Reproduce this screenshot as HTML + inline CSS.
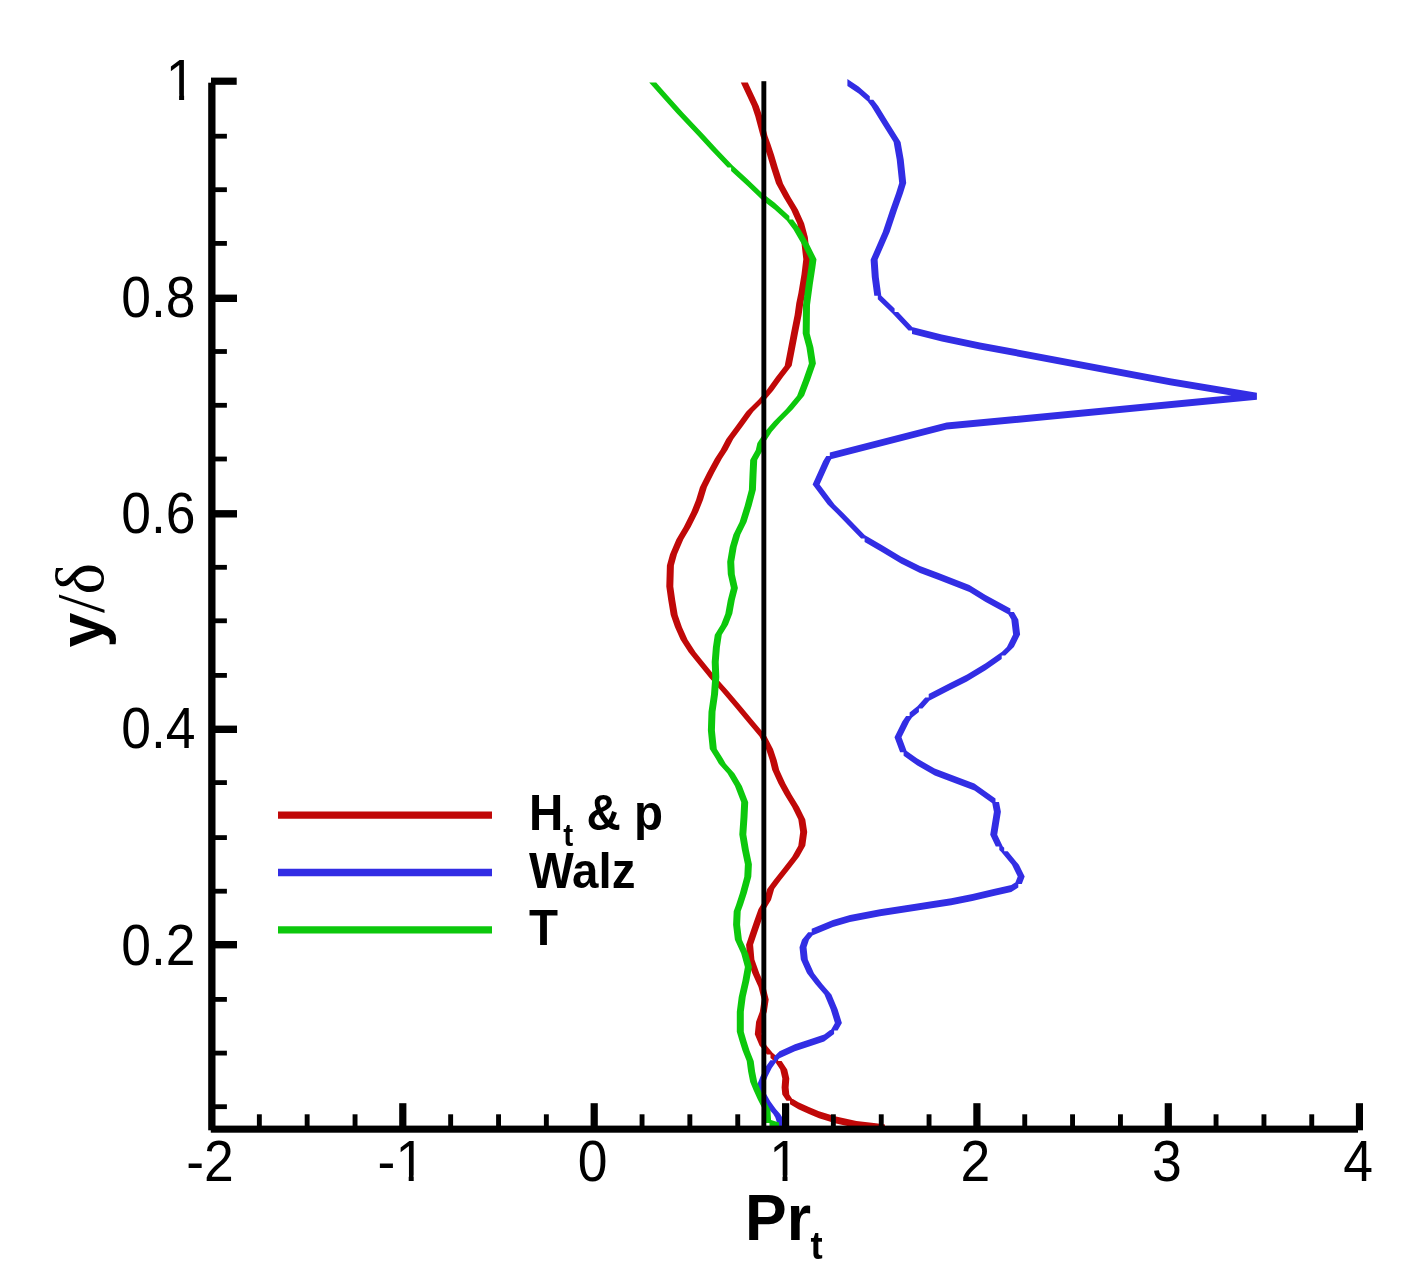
<!DOCTYPE html>
<html><head><meta charset="utf-8"><title>Pr_t profiles</title>
<style>
html,body{margin:0;padding:0;background:#fff;}
body{width:1415px;height:1288px;overflow:hidden;}
svg{display:block;}
.tk{font-family:"Liberation Sans",Arial,sans-serif;font-size:53.5px;fill:#000;}
.lg{font-family:"Liberation Sans",Arial,sans-serif;font-weight:bold;font-size:47.5px;fill:#000;}
.ttl{font-family:"Liberation Sans",Arial,sans-serif;font-weight:bold;font-size:62.5px;fill:#000;}
</style></head>
<body>
<svg width="1415" height="1288" viewBox="0 0 1415 1288">
<rect x="0" y="0" width="1415" height="1288" fill="#fff"/>
<g>
<path fill="#c00808" d="M740.8,82.6 747.8,82.6 753.9,95.5 746.9,95.5ZM746.9,95.5 753.9,95.5 758.8,106.0 751.8,106.0ZM751.8,106.0 758.8,106.0 762.3,116.4 755.3,116.4ZM755.3,116.4 762.3,116.4 765.1,126.9 758.1,126.9ZM758.1,126.9 765.1,126.9 767.5,136.0 760.5,136.0ZM760.5,136.0 767.5,136.0 770.6,144.4 763.6,144.4ZM763.6,144.4 770.6,144.4 774.1,154.9 767.1,154.9ZM767.1,154.9 774.1,154.9 778.0,168.0 771.0,168.0ZM771.0,168.0 778.0,168.0 783.0,183.5 776.0,183.5ZM776.0,183.5 783.0,183.5 790.5,197.2 783.5,197.2ZM783.5,197.2 790.5,197.2 797.9,209.6 790.9,209.6ZM790.9,209.6 797.9,209.6 804.1,223.3 797.1,223.3ZM797.1,223.3 804.1,223.3 807.8,237.0 800.8,237.0ZM800.8,237.0 807.8,237.0 810.3,259.3 803.3,259.3ZM803.3,259.3 810.3,259.3 808.5,274.2 801.5,274.2ZM801.5,274.2 808.5,274.2 805.4,292.9 798.4,292.9ZM798.4,292.9 805.4,292.9 803.3,303.0 796.3,303.0ZM796.3,303.0 803.3,303.0 801.6,314.9 794.6,314.9ZM794.6,314.9 801.6,314.9 797.9,333.5 790.9,333.5ZM790.9,333.5 797.9,333.5 794.8,349.7 787.8,349.7ZM787.8,349.7 794.8,349.7 791.7,365.8 784.7,365.8ZM784.7,365.8 791.7,365.8 783.0,377.0 776.0,377.0ZM776.0,377.0 783.0,377.0 773.1,390.7 766.1,390.7ZM766.1,390.7 773.1,390.7 765.6,399.4 758.6,399.4ZM758.6,399.4 765.6,399.4 753.2,411.8 746.2,411.8ZM746.2,411.8 753.2,411.8 743.3,425.5 736.3,425.5ZM736.3,425.5 743.3,425.5 733.3,439.1 726.3,439.1ZM726.3,439.1 733.3,439.1 727.5,450.0 720.5,450.0ZM720.5,450.0 727.5,450.0 721.8,458.7 714.8,458.7ZM714.8,458.7 721.8,458.7 714.3,472.4 707.3,472.4ZM707.3,472.4 714.3,472.4 706.9,487.3 699.9,487.3ZM699.9,487.3 706.9,487.3 703.1,499.7 696.1,499.7ZM696.1,499.7 703.1,499.7 698.2,512.1 691.2,512.1ZM691.2,512.1 698.2,512.1 690.7,527.0 683.7,527.0ZM683.7,527.0 690.7,527.0 683.3,539.4 676.3,539.4ZM676.3,539.4 683.3,539.4 677.0,554.3 670.0,554.3ZM670.0,554.3 677.0,554.3 673.9,565.5 666.9,565.5ZM666.9,565.5 673.9,565.5 673.3,586.6 666.3,586.6ZM666.3,586.6 673.3,586.6 675.2,600.0 668.2,600.0ZM668.2,600.0 675.2,600.0 677.7,614.9 670.7,614.9ZM670.7,614.9 677.7,614.9 682.0,627.3 675.0,627.3ZM675.0,627.3 682.0,627.3 687.6,639.8 680.6,639.8ZM680.6,639.8 687.6,639.8 695.7,652.2 688.7,652.2ZM688.7,652.2 695.7,652.2 705.6,664.6 698.6,664.6ZM698.6,664.6 705.6,664.6 716.8,678.3 709.8,678.3ZM709.8,678.3 716.8,678.3 728.0,690.7 721.0,690.7ZM721.0,690.7 728.0,690.7 741.6,706.8 734.6,706.8ZM734.6,706.8 741.6,706.8 754.1,721.7 747.1,721.7ZM747.1,721.7 754.1,721.7 766.5,736.6 759.5,736.6ZM759.5,736.6 766.5,736.6 773.0,749.0 766.0,749.0ZM766.0,749.0 773.0,749.0 776.7,759.9 769.7,759.9ZM769.7,759.9 776.7,759.9 779.2,769.9 772.2,769.9ZM772.2,769.9 779.2,769.9 785.4,783.5 778.4,783.5ZM778.4,783.5 785.4,783.5 791.6,794.7 784.6,794.7ZM784.6,794.7 791.6,794.7 799.1,807.1 792.1,807.1ZM792.1,807.1 799.1,807.1 805.3,819.6 798.3,819.6ZM798.3,819.6 805.3,819.6 807.2,832.0 800.2,832.0ZM800.2,832.0 807.2,832.0 805.3,845.7 798.3,845.7ZM798.3,845.7 805.3,845.7 799.1,856.8 792.1,856.8ZM792.1,856.8 799.1,856.8 790.4,868.0 783.4,868.0ZM783.4,868.0 790.4,868.0 780.5,880.4 773.5,880.4ZM773.5,880.4 780.5,880.4 774.2,889.1 767.2,889.1ZM767.2,889.1 774.2,889.1 771.0,900.0 764.0,900.0ZM764.0,900.0 771.0,900.0 765.5,909.0 758.5,909.0ZM758.5,909.0 765.5,909.0 761.2,921.1 754.2,921.1ZM754.2,921.1 761.2,921.1 756.9,933.5 749.9,933.5ZM749.9,933.5 756.9,933.5 753.1,944.7 746.1,944.7ZM746.1,944.7 753.1,944.7 754.4,959.6 747.4,959.6ZM747.4,959.6 754.4,959.6 759.3,973.3 752.3,973.3ZM752.3,973.3 759.3,973.3 765.5,987.0 758.5,987.0ZM758.5,987.0 765.5,987.0 768.7,999.4 761.7,999.4ZM761.7,999.4 768.7,999.4 766.8,1011.8 759.8,1011.8ZM759.8,1011.8 766.8,1011.8 763.1,1021.7 756.1,1021.7ZM756.1,1021.7 763.1,1021.7 761.8,1034.2 754.8,1034.2ZM754.8,1034.2 761.8,1034.2 766.5,1045.4 759.5,1045.4ZM759.5,1045.4 766.5,1045.4 774.0,1054.5 767.0,1054.5ZM778.1,1057.5 778.1,1064.5 770.5,1058.0 770.5,1051.0ZM774.6,1061.0 781.6,1061.0 787.2,1069.4 780.2,1069.4ZM780.2,1069.4 787.2,1069.4 789.3,1078.4 782.3,1078.4ZM782.3,1078.4 789.3,1078.4 788.6,1087.5 781.6,1087.5ZM781.6,1087.5 788.6,1087.5 789.3,1094.5 782.3,1094.5ZM782.3,1094.5 789.3,1094.5 793.5,1100.8 786.5,1100.8ZM798.4,1102.2 798.4,1109.2 790.0,1104.3 790.0,1097.3ZM808.9,1107.1 808.9,1114.1 798.4,1109.2 798.4,1102.2ZM819.0,1111.3 819.0,1118.3 808.9,1114.1 808.9,1107.1ZM836.0,1116.4 836.0,1123.4 819.0,1118.3 819.0,1111.3ZM856.5,1120.9 856.5,1127.9 836.0,1123.4 836.0,1116.4ZM876.0,1123.3 876.0,1130.3 856.5,1127.9 856.5,1120.9ZM885.0,1124.5 885.0,1131.5 876.0,1130.3 876.0,1123.3Z"/>
<path fill="#322de4" d="M858.6,86.4 858.6,93.4 847.4,86.1 847.4,79.1ZM869.8,96.3 869.8,103.3 858.6,93.4 858.6,86.4ZM866.3,99.8 873.3,99.8 878.2,106.1 871.2,106.1ZM871.2,106.1 878.2,106.1 888.2,122.2 881.2,122.2ZM881.2,122.2 888.2,122.2 900.6,142.1 893.6,142.1ZM893.6,142.1 900.6,142.1 903.7,159.5 896.7,159.5ZM896.7,159.5 903.7,159.5 906.2,183.1 899.2,183.1ZM899.2,183.1 906.2,183.1 903.1,193.0 896.1,193.0ZM896.1,193.0 903.1,193.0 896.9,210.4 889.9,210.4ZM889.9,210.4 896.9,210.4 889.7,232.0 882.7,232.0ZM882.7,232.0 889.7,232.0 877.6,259.8 870.6,259.8ZM870.6,259.8 877.6,259.8 878.8,277.2 871.8,277.2ZM871.8,277.2 878.8,277.2 881.3,295.8 874.3,295.8ZM894.6,308.5 894.6,315.5 877.8,299.3 877.8,292.3ZM891.1,312.0 898.1,312.0 915.5,330.6 908.5,330.6ZM941.8,334.6 941.8,341.6 912.0,334.1 912.0,327.1ZM980.0,342.4 980.0,349.4 941.8,341.6 941.8,334.6ZM1170.0,378.3 1170.0,385.3 980.0,349.4 980.0,342.4ZM1256.9,392.8 1256.9,399.8 1170.0,385.3 1170.0,378.3ZM1256.9,392.8 1256.9,399.8 946.6,429.6 946.6,422.6ZM946.6,422.6 946.6,429.6 829.8,459.5 829.8,452.5ZM826.3,456.0 833.3,456.0 830.2,460.9 823.2,460.9ZM823.2,460.9 830.2,460.9 819.6,484.5 812.6,484.5ZM812.6,484.5 819.6,484.5 834.6,504.4 827.6,504.4ZM827.6,504.4 834.6,504.4 843.3,513.1 836.3,513.1ZM836.3,513.1 843.3,513.1 868.1,538.4 861.1,538.4ZM881.8,545.1 881.8,552.1 864.6,541.9 864.6,534.9ZM900.9,556.6 900.9,563.6 881.8,552.1 881.8,545.1ZM920.0,566.1 920.0,573.1 900.9,563.6 900.9,556.6ZM938.0,572.8 938.0,579.8 920.0,573.1 920.0,566.1ZM969.4,585.0 969.4,592.0 938.0,579.8 938.0,572.8ZM985.6,594.9 985.6,601.9 969.4,592.0 969.4,585.0ZM1010.4,608.6 1010.4,615.6 985.6,601.9 985.6,594.9ZM1006.9,612.1 1013.9,612.1 1018.3,619.6 1011.3,619.6ZM1011.3,619.6 1018.3,619.6 1020.1,634.5 1013.1,634.5ZM1013.1,634.5 1020.1,634.5 1013.9,646.9 1006.9,646.9ZM1006.9,646.9 1013.9,646.9 1005.2,655.6 998.2,655.6ZM1001.7,652.1 1001.7,659.1 985.6,670.3 985.6,663.3ZM985.6,663.3 985.6,670.3 967.0,681.5 967.0,674.5ZM967.0,674.5 967.0,681.5 950.0,690.1 950.0,683.1ZM950.0,683.1 950.0,690.1 928.7,700.9 928.7,693.9ZM925.2,697.4 932.2,697.4 922.4,708.5 915.4,708.5ZM918.9,705.0 918.9,712.0 909.6,719.5 909.6,712.5ZM906.1,716.0 913.1,716.0 909.3,721.6 902.3,721.6ZM902.3,721.6 909.3,721.6 901.5,737.3 894.5,737.3ZM894.5,737.3 901.5,737.3 907.1,752.2 900.1,752.2ZM917.3,758.6 917.3,765.6 903.6,755.7 903.6,748.7ZM934.7,768.5 934.7,775.5 917.3,765.6 917.3,758.6ZM954.5,776.0 954.5,783.0 934.7,775.5 934.7,768.5ZM974.4,783.5 974.4,790.5 954.5,783.0 954.5,776.0ZM995.5,798.4 995.5,805.4 974.4,790.5 974.4,783.5ZM992.0,801.9 999.0,801.9 1000.9,811.8 993.9,811.8ZM993.9,811.8 1000.9,811.8 997.2,834.8 990.2,834.8ZM990.2,834.8 997.2,834.8 1002.8,846.6 995.8,846.6ZM1004.2,847.7 1004.2,854.7 999.3,850.1 999.3,843.1ZM1000.7,851.2 1007.7,851.2 1018.9,864.8 1011.9,864.8ZM1011.9,864.8 1018.9,864.8 1024.7,876.5 1017.7,876.5ZM1017.7,876.5 1024.7,876.5 1021.8,884.1 1014.8,884.1ZM1018.3,880.6 1018.3,887.6 1011.3,891.9 1011.3,884.9ZM1011.3,884.9 1011.3,891.9 993.6,896.1 993.6,889.1ZM993.6,889.1 993.6,896.1 972.4,901.1 972.4,894.1ZM972.4,894.1 972.4,901.1 951.2,905.3 951.2,898.3ZM951.2,898.3 951.2,905.3 930.0,908.5 930.0,901.5ZM930.0,901.5 930.0,908.5 917.3,910.6 917.3,903.6ZM917.3,903.6 917.3,910.6 880.0,916.2 880.0,909.2ZM880.0,909.2 880.0,916.2 850.0,922.1 850.0,915.1ZM850.0,915.1 850.0,922.1 832.9,927.1 832.9,920.1ZM832.9,920.1 832.9,927.1 811.7,935.8 811.7,928.8ZM808.2,932.3 815.2,932.3 809.0,939.8 802.0,939.8ZM802.0,939.8 809.0,939.8 806.5,947.2 799.5,947.2ZM799.5,947.2 806.5,947.2 807.8,959.6 800.8,959.6ZM800.8,959.6 807.8,959.6 814.0,973.3 807.0,973.3ZM807.0,973.3 814.0,973.3 822.7,984.5 815.7,984.5ZM815.7,984.5 822.7,984.5 831.4,994.4 824.4,994.4ZM824.4,994.4 831.4,994.4 837.6,1009.3 830.6,1009.3ZM830.6,1009.3 837.6,1009.3 841.9,1023.0 834.9,1023.0ZM834.9,1023.0 841.9,1023.0 837.6,1030.4 830.6,1030.4ZM834.1,1026.9 834.1,1033.9 824.2,1041.4 824.2,1034.4ZM824.2,1034.4 824.2,1041.4 809.3,1046.4 809.3,1039.4ZM809.3,1039.4 809.3,1046.4 794.9,1051.2 794.9,1044.2ZM794.9,1044.2 794.9,1051.2 779.5,1058.2 779.5,1051.2ZM779.5,1051.2 779.5,1058.2 773.9,1063.8 773.9,1056.8ZM770.4,1060.3 777.4,1060.3 771.8,1068.0 764.8,1068.0ZM764.8,1068.0 771.8,1068.0 767.6,1076.3 760.6,1076.3ZM760.6,1076.3 767.6,1076.3 764.8,1083.3 757.8,1083.3ZM757.8,1083.3 764.8,1083.3 765.5,1093.1 758.5,1093.1ZM758.5,1093.1 765.5,1093.1 770.4,1101.5 763.4,1101.5ZM763.4,1101.5 770.4,1101.5 776.0,1109.2 769.0,1109.2ZM769.0,1109.2 776.0,1109.2 780.2,1114.1 773.2,1114.1ZM773.2,1114.1 780.2,1114.1 782.3,1117.6 775.3,1117.6ZM775.3,1117.6 782.3,1117.6 783.7,1121.8 776.7,1121.8ZM776.7,1121.8 783.7,1121.8 783.7,1126.0 776.7,1126.0Z"/>
<path fill="#0cc80c" d="M649.2,82.6 656.2,82.6 669.5,97.6 662.5,97.6ZM662.5,97.6 669.5,97.6 683.4,112.9 676.4,112.9ZM676.4,112.9 683.4,112.9 704.4,135.3 697.4,135.3ZM697.4,135.3 704.4,135.3 717.0,149.0 710.0,149.0ZM710.0,149.0 717.0,149.0 734.6,167.4 727.6,167.4ZM747.2,178.8 747.2,185.8 731.1,170.9 731.1,163.9ZM762.1,193.1 762.1,200.1 747.2,185.8 747.2,178.8ZM774.5,202.4 774.5,209.4 762.1,200.1 762.1,193.1ZM789.4,216.1 789.4,223.1 774.5,209.4 774.5,202.4ZM785.9,219.6 792.9,219.6 800.4,229.5 793.4,229.5ZM793.4,229.5 800.4,229.5 809.1,244.4 802.1,244.4ZM802.1,244.4 809.1,244.4 816.5,259.3 809.5,259.3ZM809.5,259.3 816.5,259.3 815.3,268.0 808.3,268.0ZM808.3,268.0 815.3,268.0 812.8,284.2 805.8,284.2ZM805.8,284.2 812.8,284.2 810.0,305.0 803.0,305.0ZM803.0,305.0 810.0,305.0 809.7,333.5 802.7,333.5ZM802.7,333.5 809.7,333.5 813.4,347.2 806.4,347.2ZM806.4,347.2 813.4,347.2 815.9,363.4 808.9,363.4ZM808.9,363.4 815.9,363.4 810.3,379.5 803.3,379.5ZM803.3,379.5 810.3,379.5 804.1,395.7 797.1,395.7ZM797.1,395.7 804.1,395.7 792.9,409.3 785.9,409.3ZM785.9,409.3 792.9,409.3 780.5,421.7 773.5,421.7ZM773.5,421.7 780.5,421.7 771.8,431.7 764.8,431.7ZM764.8,431.7 771.8,431.7 764.4,442.9 757.4,442.9ZM757.4,442.9 764.4,442.9 762.8,450.0 755.8,450.0ZM755.8,450.0 762.8,450.0 757.2,459.9 750.2,459.9ZM750.2,459.9 757.2,459.9 756.5,474.8 749.5,474.8ZM749.5,474.8 756.5,474.8 755.9,489.8 748.9,489.8ZM748.9,489.8 755.9,489.8 751.6,505.9 744.6,505.9ZM744.6,505.9 751.6,505.9 746.6,522.0 739.6,522.0ZM739.6,522.0 746.6,522.0 740.4,534.5 733.4,534.5ZM733.4,534.5 740.4,534.5 736.7,546.9 729.7,546.9ZM729.7,546.9 736.7,546.9 734.2,561.8 727.2,561.8ZM727.2,561.8 734.2,561.8 734.8,574.2 727.8,574.2ZM727.8,574.2 734.8,574.2 737.9,587.9 730.9,587.9ZM730.9,587.9 737.9,587.9 734.8,600.0 727.8,600.0ZM727.8,600.0 734.8,600.0 732.3,613.7 725.3,613.7ZM725.3,613.7 732.3,613.7 728.0,624.8 721.0,624.8ZM721.0,624.8 728.0,624.8 721.8,634.8 714.8,634.8ZM714.8,634.8 721.8,634.8 719.9,647.2 712.9,647.2ZM712.9,647.2 719.9,647.2 718.7,662.1 711.7,662.1ZM711.7,662.1 718.7,662.1 719.3,677.0 712.3,677.0ZM712.3,677.0 719.3,677.0 718.0,694.4 711.0,694.4ZM711.0,694.4 718.0,694.4 715.5,711.8 708.5,711.8ZM708.5,711.8 715.5,711.8 714.9,730.4 707.9,730.4ZM707.9,730.4 714.9,730.4 716.8,749.1 709.8,749.1ZM709.8,749.1 716.8,749.1 722.5,758.0 715.5,758.0ZM715.5,758.0 722.5,758.0 725.8,763.7 718.8,763.7ZM718.8,763.7 725.8,763.7 734.5,773.6 727.5,773.6ZM727.5,773.6 734.5,773.6 741.9,786.0 734.9,786.0ZM734.9,786.0 741.9,786.0 748.2,802.2 741.2,802.2ZM741.2,802.2 748.2,802.2 747.5,817.1 740.5,817.1ZM740.5,817.1 747.5,817.1 746.3,834.5 739.3,834.5ZM739.3,834.5 746.3,834.5 748.8,849.4 741.8,849.4ZM741.8,849.4 748.8,849.4 751.9,864.3 744.9,864.3ZM744.9,864.3 751.9,864.3 751.3,876.7 744.3,876.7ZM744.3,876.7 751.3,876.7 746.9,892.9 739.9,892.9ZM739.9,892.9 746.9,892.9 743.0,905.0 736.0,905.0ZM736.0,905.0 743.0,905.0 740.7,911.2 733.7,911.2ZM733.7,911.2 740.7,911.2 740.1,924.8 733.1,924.8ZM733.1,924.8 740.1,924.8 741.9,939.8 734.9,939.8ZM734.9,939.8 741.9,939.8 748.2,953.4 741.2,953.4ZM741.2,953.4 748.2,953.4 751.9,967.1 744.9,967.1ZM744.9,967.1 751.9,967.1 749.4,980.7 742.4,980.7ZM742.4,980.7 749.4,980.7 745.7,996.9 738.7,996.9ZM738.7,996.9 745.7,996.9 743.8,1011.8 736.8,1011.8ZM736.8,1011.8 743.8,1011.8 743.8,1031.7 736.8,1031.7ZM736.8,1031.7 743.8,1031.7 746.5,1041.0 739.5,1041.0ZM739.5,1041.0 746.5,1041.0 749.5,1050.5 742.5,1050.5ZM742.5,1050.5 749.5,1050.5 753.7,1061.0 746.7,1061.0ZM746.7,1061.0 753.7,1061.0 755.1,1071.4 748.1,1071.4ZM748.1,1071.4 755.1,1071.4 757.2,1081.9 750.2,1081.9ZM750.2,1081.9 757.2,1081.9 760.6,1090.3 753.6,1090.3ZM753.6,1090.3 760.6,1090.3 764.8,1099.4 757.8,1099.4ZM757.8,1099.4 764.8,1099.4 767.6,1105.0 760.6,1105.0ZM760.6,1105.0 767.6,1105.0 770.4,1109.9 763.4,1109.9ZM763.4,1109.9 770.4,1109.9 771.1,1120.4 764.1,1120.4ZM764.1,1120.4 771.1,1120.4 773.0,1123.0 766.0,1123.0ZM779.0,1122.5 779.0,1129.5 769.5,1126.5 769.5,1119.5Z"/>
</g>
<rect x="761.4" y="81.2" width="4.9" height="1046" fill="#000"/>
<g fill="#000">
<rect x="208.2" y="82.7" width="7.3" height="1047.6"/>
<rect x="210.8" y="1125.6" width="1147.2" height="7.1"/>
<rect x="211.0" y="77.6" width="25.7" height="7.2"/>
<rect x="212.0" y="133.8" width="14.9" height="4.8"/>
<rect x="212.0" y="187.3" width="14.9" height="4.8"/>
<rect x="212.0" y="241.0" width="14.9" height="4.8"/>
<rect x="212.0" y="294.6" width="25.0" height="7.4"/>
<rect x="212.0" y="349.1" width="14.9" height="4.8"/>
<rect x="212.0" y="402.9" width="14.9" height="4.8"/>
<rect x="212.0" y="456.6" width="14.9" height="4.8"/>
<rect x="212.0" y="510.1" width="25.0" height="7.4"/>
<rect x="212.0" y="564.9" width="14.9" height="4.8"/>
<rect x="212.0" y="618.4" width="14.9" height="4.8"/>
<rect x="212.0" y="673.0" width="14.9" height="4.8"/>
<rect x="212.0" y="725.6" width="25.0" height="7.4"/>
<rect x="212.0" y="780.2" width="14.9" height="4.8"/>
<rect x="212.0" y="835.2" width="14.9" height="4.8"/>
<rect x="212.0" y="888.8" width="14.9" height="4.8"/>
<rect x="212.0" y="941.0" width="25.0" height="7.4"/>
<rect x="212.0" y="997.0" width="14.9" height="4.8"/>
<rect x="212.0" y="1050.7" width="14.9" height="4.8"/>
<rect x="212.0" y="1104.3" width="14.9" height="4.8"/>
<rect x="399.2" y="1103.2" width="7.2" height="25.8"/>
<rect x="590.6" y="1103.2" width="7.2" height="25.8"/>
<rect x="782.0" y="1103.2" width="7.2" height="25.8"/>
<rect x="973.3" y="1103.2" width="7.2" height="25.8"/>
<rect x="1164.7" y="1103.2" width="7.2" height="25.8"/>
<rect x="1355.9" y="1103.2" width="7.1" height="27.1"/>
<rect x="256.9" y="1114.3" width="4.9" height="14.7"/>
<rect x="304.7" y="1114.3" width="4.9" height="14.7"/>
<rect x="352.6" y="1114.3" width="4.9" height="14.7"/>
<rect x="448.2" y="1114.3" width="4.9" height="14.7"/>
<rect x="496.1" y="1114.3" width="4.9" height="14.7"/>
<rect x="543.9" y="1114.3" width="4.9" height="14.7"/>
<rect x="639.6" y="1114.3" width="4.9" height="14.7"/>
<rect x="687.4" y="1114.3" width="4.9" height="14.7"/>
<rect x="735.3" y="1114.3" width="4.9" height="14.7"/>
<rect x="830.9" y="1114.3" width="4.9" height="14.7"/>
<rect x="878.8" y="1114.3" width="4.9" height="14.7"/>
<rect x="926.6" y="1114.3" width="4.9" height="14.7"/>
<rect x="1022.3" y="1114.3" width="4.9" height="14.7"/>
<rect x="1070.1" y="1114.3" width="4.9" height="14.7"/>
<rect x="1118.0" y="1114.3" width="4.9" height="14.7"/>
<rect x="1213.6" y="1114.3" width="4.9" height="14.7"/>
<rect x="1261.5" y="1114.3" width="4.9" height="14.7"/>
<rect x="1309.3" y="1114.3" width="4.9" height="14.7"/>
</g>
<text class="tk" text-anchor="end" transform="translate(195.50,99.90) scale(1,1.065)">1</text>
<text class="tk" text-anchor="end" transform="translate(195.50,317.00) scale(1,1.065)">0.8</text>
<text class="tk" text-anchor="end" transform="translate(195.50,532.70) scale(1,1.065)">0.6</text>
<text class="tk" text-anchor="end" transform="translate(195.50,748.20) scale(1,1.065)">0.4</text>
<text class="tk" text-anchor="end" transform="translate(195.50,965.10) scale(1,1.065)">0.2</text>
<text class="tk" text-anchor="middle" transform="translate(210.00,1181.00) scale(1,1.065)">-2</text>
<text class="tk" text-anchor="middle" transform="translate(401.35,1181.00) scale(1,1.065)">-1</text>
<text class="tk" text-anchor="middle" transform="translate(592.70,1181.00) scale(1,1.065)">0</text>
<text class="tk" text-anchor="middle" transform="translate(784.05,1181.00) scale(1,1.065)">1</text>
<text class="tk" text-anchor="middle" transform="translate(975.40,1181.00) scale(1,1.065)">2</text>
<text class="tk" text-anchor="middle" transform="translate(1166.75,1181.00) scale(1,1.065)">3</text>
<text class="tk" text-anchor="middle" transform="translate(1358.10,1181.00) scale(1,1.065)">4</text>
<g fill="#fff">
<rect x="167.8" y="94.3" width="11.3" height="7.1"/>
<rect x="184.1" y="94.3" width="11.0" height="7.1"/>
<rect x="397.4" y="1175.4" width="11.3" height="7.1"/>
<rect x="413.7" y="1175.4" width="11.0" height="7.1"/>
<rect x="771.2" y="1175.4" width="11.3" height="7.1"/>
<rect x="787.5" y="1175.4" width="11.0" height="7.1"/>
</g>
<g stroke-width="7.3" fill="none">
<line x1="278" y1="815.1" x2="492" y2="815.1" stroke="#c00808"/>
<line x1="278" y1="872.5" x2="492" y2="872.5" stroke="#322de4"/>
<line x1="278" y1="929.8" x2="492" y2="929.8" stroke="#0cc80c"/>
</g>
<text class="lg" transform="translate(529.00,829.80) scale(1,1.04)">H<tspan font-size="30px" dy="15.5">t</tspan><tspan dy="-15.5"> &amp; p</tspan></text>
<text class="lg" transform="translate(529.00,887.50) scale(1,1.04)">Walz</text>
<text class="lg" transform="translate(529.00,944.80) scale(1,1.04)">T</text>
<text class="ttl" transform="translate(745.00,1240.00) scale(1,1.05)">Pr<tspan font-size="36.5px" dy="18.3" dx="-0.5">t</tspan></text>
<g transform="translate(103.3,647.6) rotate(-90)">
<text class="ttl" x="0" y="0">y</text>
<text x="34.5" y="0" font-family="'Liberation Serif',serif" font-size="67px" fill="#000">/δ</text>
</g>
</svg>
</body></html>
